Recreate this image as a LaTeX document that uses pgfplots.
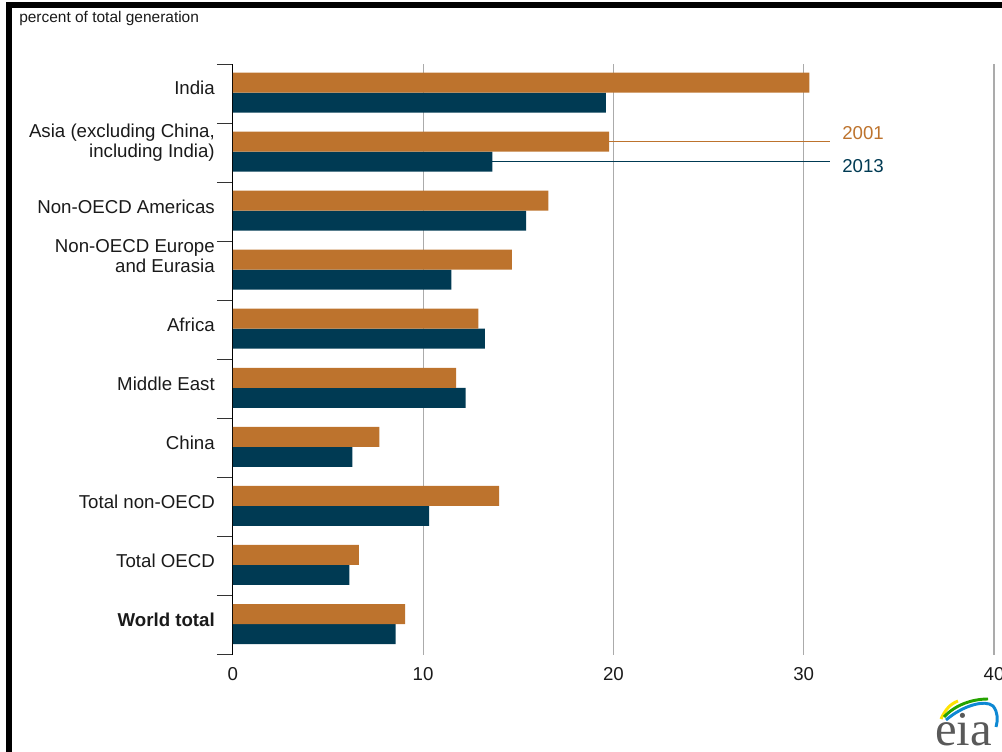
\documentclass[border=0pt]{standalone}
\usepackage{fontspec}
\setmainfont{Liberation Sans}
\newfontfamily\eiafont{Liberation Serif}
\usepackage{pgfplots}
\pgfplotsset{compat=1.18}
\definecolor{c01}{HTML}{BD732D}
\definecolor{c13}{HTML}{003A53}
\definecolor{gridc}{HTML}{ABABAB}
\definecolor{txt}{HTML}{1A1A1A}
\begin{document}
\begin{tikzpicture}
\begin{axis}[
  at={(0,0)}, anchor=south west, scale only axis,
  width=570.9pt, height=442.9pt,
  xbar, bar width=15pt,
  xmin=0, xmax=40, ymin=-0.5, ymax=9.5,
  axis x line*=bottom, axis y line*=left,
  x axis line style={draw=none},
  y axis line style={-, black, line width=0.75pt},
  xtick={0,10,20,30,40},
  xmajorgrids, grid style={gridc, line width=0.9pt},
  ytick={0,1,2,3,4,5,7,8,9},
  yticklabels={\textbf{World total},Total OECD,Total non-OECD,China,Middle East,Africa,Non-OECD Americas,{Asia (excluding China,\\including India)\rule[-9.3pt]{0pt}{9.3pt}},India},
  extra y ticks={6},
  extra y tick labels={{Non-OECD Europe\\and Eurasia}},
  extra y tick style={yticklabel style={yshift=7pt}},
  minor ytick={-0.5,0.5,...,9.5},
  major tick length=0pt, minor tick length=12pt, tick align=outside,
  ytick pos=left, xtick pos=bottom,
  every minor tick/.style={black!80, line width=0.75pt},
  /pgf/number format/assume math mode=true,
  ticklabel style={font=\fontsize{14}{15}\selectfont, text=txt},
  yticklabel style={anchor=east, align=right, xshift=-10pt, yshift=4.3pt},
  xticklabel style={yshift=-6pt},
  clip=false,
]
\addplot[fill=c13, draw=none, bar shift=-6.4pt] coordinates {(8.56,0) (6.12,1) (10.31,2) (6.28,3) (12.24,4) (13.25,5) (11.48,6) (15.41,7) (13.64,8) (19.6,9)};
\addplot[fill=c01, draw=none, bar shift=8.6pt] coordinates {(9.06,0) (6.63,1) (13.99,2) (7.70,3) (11.73,4) (12.9,5) (14.67,6) (16.58,7) (19.77,8) (30.3,9)};
\draw[c01, line width=0.75pt] ([yshift=8.6pt]axis cs:19.77,8) -- ([yshift=8.6pt]axis cs:31.4,8);
\draw[c13, line width=0.75pt] ([yshift=-6.4pt]axis cs:13.64,8) -- ([yshift=-6.4pt]axis cs:31.4,8);
\end{axis}
\begin{scope}[x=0.75pt,y=-0.75pt,shift={(-174.6pt,491.25pt)}]
\fill[black] (6,2) rectangle (12,752);
\fill[black] (6,2) rectangle (1002,8);
\node[anchor=west, inner sep=0pt, font=\fontsize{11.6}{13}\selectfont, text=txt] at (19,18.3) {percent of total generation};
\node[anchor=west, inner sep=0pt, font=\fontsize{14}{15}\selectfont, text=c01] at (842,133.5) {2001};
\node[anchor=west, inner sep=0pt, font=\fontsize{14}{15}\selectfont, text=c13] at (842,165.7) {2013};
\node[anchor=base west, inner sep=0pt, font=\eiafont\fontsize{36.5}{38}\selectfont, text=black!65] at (935,745) {eia};
\draw[line width=2.2pt, yellow!85!orange] (941,719) .. controls (945,710) and (950,704) .. (958,701);
\draw[line width=2.2pt, green!55!black!80!lime] (944,717) .. controls (955,705) and (972,699) .. (988,699);
\draw[line width=2.2pt, cyan!70!blue] (946,720) .. controls (962,706) and (985,699) .. (993,706) .. controls (998,712) and (998,720) .. (996,727);
\pgfresetboundingbox
\path[use as bounding box] (0,0) rectangle (1002,752);
\end{scope}
\end{tikzpicture}
\end{document}
